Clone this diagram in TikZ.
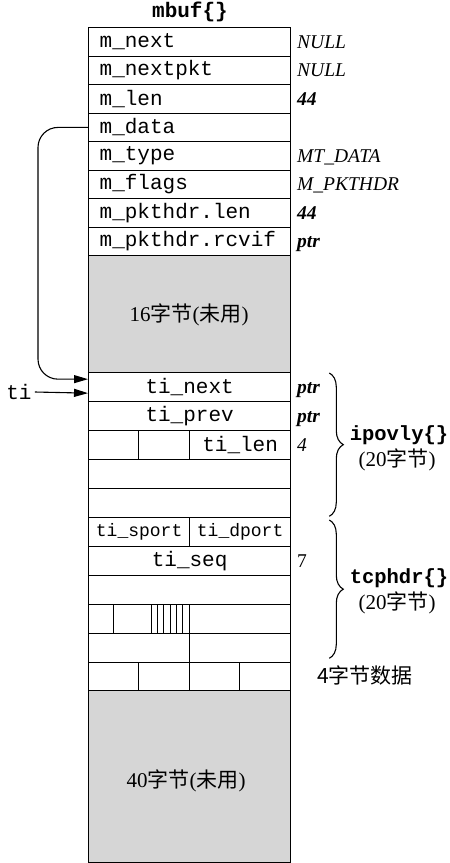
\documentclass[tikz,border=0pt]{standalone}
\usepackage{fontspec}
\setmainfont{Liberation Serif}
\newfontfamily\mono{Liberation Mono}
\newfontfamily\cjk{Noto Sans CJK SC}
\usetikzlibrary{arrows.meta,decorations.pathreplacing,calc}
\begin{document}
\begin{tikzpicture}[x=1pt,y=-1pt,
  monofont/.style={font=\mono\fontsize{21}{23}\selectfont},
  rowbox/.style={draw, line width=1.3pt, anchor=north west, inner sep=0pt, minimum width=202pt, monofont},
  leftrow/.style={rowbox, minimum height=28.5pt, text width=180pt, align=left},
  cellbox/.style={draw, line width=1.3pt, anchor=north west, inner sep=0pt, minimum height=29pt, monofont},
  flagbox/.style={anchor=north west, inner sep=0pt, minimum height=29pt, minimum width=6.33pt},
  flagline/.style={line width=0.9pt},
  grayblock/.style={draw, line width=1.3pt, anchor=north west, inner sep=0pt, minimum width=202pt, fill=black!16},
  valtxt/.style={anchor=base west, inner sep=0pt, font=\fontsize{19.5}{21}\selectfont},
  cjktxt/.style={inner sep=0pt, font=\fontsize{21}{24}\selectfont},
  boldmono/.style={inner sep=0pt, font=\mono\bfseries\fontsize{20.5}{23}\selectfont},
  ptrarrow/.style={line width=1.1pt, -{Triangle[length=14pt,width=8pt]}},
  bracedec/.style={decorate, decoration={brace, amplitude=14pt}, line width=1.1pt}
]
\useasboundingbox (0,0) rectangle (450,863);

% title
\node[inner sep=0pt, font=\mono\bfseries\fontsize{21}{23}\selectfont] (title) at (190,12) {mbuf\{\}};

% mbuf header rows
\node[leftrow] (mnext)    at (88,27)    {m\_next};
\node[leftrow] (mnextpkt) at (88,55.5)  {m\_nextpkt};
\node[leftrow] (mlen)     at (88,84)    {m\_len};
\node[leftrow] (mdata)    at (88,112.5) {m\_data};
\node[leftrow] (mtype)    at (88,141)   {m\_type};
\node[leftrow] (mflags)   at (88,169.5) {m\_flags};
\node[leftrow] (mplen)    at (88,198)   {m\_pkthdr.len};
\node[leftrow] (mprcvif)  at (88,226.5) {m\_pkthdr.rcvif};

% values
\node[valtxt] (vnext)    at (297,48)  {\itshape NULL};
\node[valtxt] (vnextpkt) at (297,76.5) {\itshape NULL};
\node[valtxt] (vlen)     at (297,105) {\bfseries\itshape 44};
\node[valtxt] (vtype)    at (297,162) {\itshape MT\_DATA};
\node[valtxt] (vflags)   at (297,190.5) {\itshape M\_PKTHDR};
\node[valtxt] (vplen)    at (297,219) {\bfseries\itshape 44};
\node[valtxt] (vrcvif)   at (297,247.5) {\bfseries\itshape ptr};

% unused 16 bytes
\node[grayblock, minimum height=117pt] (unused1) at (88,255) {};
\node[cjktxt] (unused1t) at (189,315) {16{\cjk 字节}({\cjk 未用})};

% ipovly
\node[cellbox, minimum width=202pt] (tinext) at (88,372) {ti\_next};
\node[cellbox, minimum width=202pt] (tiprev) at (88,401) {ti\_prev};
\node[cellbox, minimum width=50pt] (ipa) at (88,430) {};
\node[cellbox, minimum width=51pt] (ipb) at (138,430) {};
\node[cellbox, minimum width=101pt] (tilen) at (189,430) {ti\_len};
\node[cellbox, minimum width=202pt] (ipsrc) at (88,459) {};
\node[cellbox, minimum width=202pt] (ipdst) at (88,488) {};

\node[valtxt] (vtinext) at (297,393) {\bfseries\itshape ptr};
\node[valtxt] (vtiprev) at (297,422) {\bfseries\itshape ptr};
\node[valtxt] (vtilen)  at (297,451) {\itshape 4};

% tcphdr
\node[cellbox, minimum width=101pt, font=\mono\fontsize{18}{20}\selectfont] (sport) at (88,517) {ti\_sport};
\node[cellbox, minimum width=101pt, font=\mono\fontsize{18}{20}\selectfont] (dport) at (189,517) {ti\_dport};
\node[cellbox, minimum width=202pt] (seq) at (88,546) {ti\_seq};
\node[cellbox, minimum width=202pt] (ack) at (88,575) {};
\node[cellbox, minimum width=25pt] (off) at (88,604) {};
\node[cellbox, minimum width=38pt] (res) at (113,604) {};
\foreach \k in {1,...,6} {
  \node[flagbox] (fl\k) at ({151+6.33*(\k-1)},604) {};
}
\foreach \k in {2,...,6} {
  \draw[flagline] (fl\k.north west) -- (fl\k.south west);
}
\node[cellbox, minimum width=101pt] (win) at (189,604) {};
\node[cellbox, minimum width=101pt] (cksum) at (88,633) {};
\node[cellbox, minimum width=101pt] (urp) at (189,633) {};

\node[valtxt] (vseq) at (297,567) {7};

% 4 bytes data
\node[cellbox, minimum width=50pt, minimum height=28pt] (d1) at (88,662) {};
\node[cellbox, minimum width=51pt, minimum height=28pt] (d2) at (138,662) {};
\node[cellbox, minimum width=50pt, minimum height=28pt] (d3) at (189,662) {};
\node[cellbox, minimum width=51pt, minimum height=28pt] (d4) at (239,662) {};
\node[cjktxt, font=\cjk\fontsize{21}{24}\selectfont] (datat) at (365,675) {4字节数据};

% unused 40 bytes
\node[grayblock, minimum height=172pt] (unused2) at (88,690) {};
\node[cjktxt] (unused2t) at (186,781) {40{\cjk 字节}({\cjk 未用})};

% braces and labels
\draw[bracedec] ([xshift=38pt,yshift=-1pt]tinext.north east) -- ([xshift=38pt,yshift=2pt]ipdst.south east);
\node[boldmono] (ipovlyt) at (399,435) {ipovly\{\}};
\node[cjktxt] (ipovlyb) at (397,460) {(20{\cjk 字节})};

\draw[bracedec] ([xshift=38pt,yshift=-3pt]dport.north east) -- ([xshift=38pt,yshift=5pt]urp.south east);
\node[boldmono] (tcphdrt) at (399,578) {tcphdr\{\}};
\node[cjktxt] (tcphdrb) at (397,603) {(20{\cjk 字节})};

% pointers
\draw[ptrarrow, rounded corners=20pt] (mdata.west) -| ([xshift=-50pt,yshift=8pt]tinext.west) -- ([yshift=8pt]tinext.west);
\node[inner sep=3pt, monofont] (ti) at (19,392) {ti};
\draw[ptrarrow] (ti.east) -- ([yshift=-6pt]tinext.west);
\end{tikzpicture}
\end{document}
